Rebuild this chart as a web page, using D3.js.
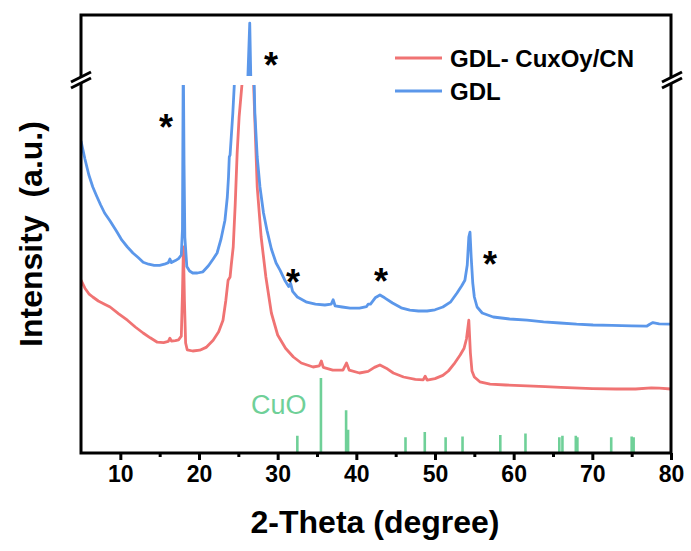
<!DOCTYPE html>
<html>
<head>
<meta charset="utf-8">
<script src="https://cdn.jsdelivr.net/npm/d3@7/dist/d3.min.js"></script>
<style>
body { margin:0; background:#fff; }
text { font-family: Arial, "Liberation Sans", sans-serif; }
</style>
</head>
<body>
<svg id="chart" width="691" height="551"></svg>
<script>
// GDL (blue) trace, 2-theta vs counts
var gdlTheta = [5.0,5.5,6.0,6.5,7.0,7.5,8.0,8.7,9.5,10.2,10.9,11.6,12.3,12.9,13.6,14.3,15.0,15.6,16.1,16.3,16.5,17.0,17.4,17.75,17.9,18.0,18.1,18.2,18.45,18.8,19.2,19.8,20.5,21.2,21.8,22.3,22.8,23.3,23.6,23.75,23.85,23.95,24.1,24.3,24.5,25.0,25.6,26.2,26.45,26.6,26.9,27.1,27.4,27.75,28.2,28.64,29.2,29.8,30.3,30.9,31.4,31.65,31.9,32.5,33.7,34.8,36.0,36.8,37.05,37.3,38.2,39.2,40.4,41.3,41.5,41.8,42.4,43.0,43.6,44.6,45.7,46.8,47.9,49.0,50.0,51.0,52.0,52.8,53.4,53.8,54.1,54.3,54.45,54.6,54.8,55.0,55.35,56.0,57.4,59.5,61.7,63.8,65.9,68.0,70.1,72.5,75.0,76.9,77.3,77.7,78.5,80.0];
var gdlCounts = [780,735,695,665,642,620,600,580,555,532,515,500,488,477,472,469,469,472,476,485,476,481,486,495,560,1000,720,540,466,455,450,450,453,468,485,500,535,582,640,690,740,745,790,850,925,1050,1120,1140,1280,1130,1020,850,740,665,600,557,510,475,457,432,416,424,404,390,377,372,370,372,383,368,365,362,362,366,372,372,388,395,388,375,363,357,355,355,358,365,378,400,418,432,470,540,552,490,425,390,365,350,340,335,332,328,325,322,320,319,318,317,322,326,323,322];

// GDL-CuxOy/CN (red) trace
var cnTheta = [5.0,5.5,6.0,6.5,7.2,8.0,8.7,9.8,10.9,11.9,12.9,13.8,14.7,15.5,16.1,16.3,16.5,17.0,17.4,17.75,17.9,18.02,18.15,18.3,18.5,19.2,20.1,20.9,21.8,22.5,23.05,23.4,23.7,23.95,24.1,24.35,24.6,24.85,25.1,25.5,25.9,26.3,26.45,26.65,26.9,27.1,27.4,27.9,28.5,29.2,30.0,31.0,32.0,33.0,34.5,35.3,35.55,35.8,37.0,38.3,38.75,39.1,40.4,41.5,42.3,43.0,43.8,44.7,46.0,47.5,48.5,48.75,49.0,50.0,51.0,51.7,52.4,53.2,53.7,54.0,54.3,54.5,54.7,55.0,55.7,57.0,59.0,61.7,64.0,66.0,70.0,73.0,75.5,77.5,78.5,80.0];
var cnCounts = [432,412,398,390,380,372,365,348,332,315,300,288,277,276,279,287,280,281,283,292,400,515,380,275,258,255,257,264,282,303,332,380,432,440,470,515,620,750,840,930,1040,1090,1100,1060,950,832,665,540,440,350,295,262,240,225,215,218,230,214,207,207,225,207,200,204,214,220,212,200,190,184,183,192,182,186,194,205,222,245,262,285,332,250,205,190,178,172,170,168,166,164,161,160,160,163,162,160];

// CuO reference lines (relative intensity)
var cuoTheta = [32.5,35.5,38.7,38.95,46.25,48.7,51.35,53.5,58.3,61.5,65.8,66.2,67.9,68.1,72.4,75.0,75.25];
var cuoRel = [23,100,57,31,21,28,21,22,24,26,21,23,23,21,21,22,21];

var xTicks = [10,20,30,40,50,60,70,80];
var xMinor = [15,25,35,45,55,65,75];

// reflection marks: [2theta, counts, panel]
var starMarks = [[15.8,832,"low"],[29.15,1194,"high"],[31.95,445,"low"],[43.13,447,"low"],[57.0,490,"low"]];

var seriesNames = ["GDL- CuxOy/CN","GDL"];
var seriesColors = ["#f07373","#5b97ea"];
var cuoColor = "#6fd098";

var W = 691, H = 551;
var L = 81, R = 671, T = 15, B = 453;
var svg = d3.select("#chart");

var x = d3.scaleLinear().domain([5,80]).range([L,R]);
var yLow = d3.scaleLinear().domain([0,920]).range([B,85]);
var yHigh = d3.scaleLinear().domain([1150,1300]).range([76,15]);
var yStick = d3.scaleLinear().domain([0,100]).range([B,378]);

var defs = svg.append("defs");
defs.append("clipPath").attr("id","clipLow").append("rect")
	.attr("x",L).attr("y",85).attr("width",R-L).attr("height",B-85);
defs.append("clipPath").attr("id","clipHigh").append("rect")
	.attr("x",L).attr("y",T).attr("width",R-L).attr("height",76-T);

function pairs(t, c){ return t.map(function(d,i){ return [d, c[i]]; }); }
var traces = [pairs(cnTheta, cnCounts), pairs(gdlTheta, gdlCounts)];

var lineLow = d3.line().x(function(d){ return x(d[0]); }).y(function(d){ return yLow(d[1]); });
var lineHigh = d3.line().x(function(d){ return x(d[0]); }).y(function(d){ return yHigh(d[1]); });

var gLow = svg.append("g").attr("clip-path","url(#clipLow)");
gLow.selectAll("path").data(traces).enter().append("path")
	.attr("d", lineLow).attr("fill","none")
	.attr("stroke", function(d,i){ return seriesColors[i]; })
	.attr("stroke-width",2.8).attr("stroke-linejoin","round");

var gHigh = svg.append("g").attr("clip-path","url(#clipHigh)");
gHigh.selectAll("path").data(traces).enter().append("path")
	.attr("d", lineHigh).attr("fill","none")
	.attr("stroke", function(d,i){ return seriesColors[i]; })
	.attr("stroke-width",2.8).attr("stroke-linejoin","round");

// CuO sticks
svg.append("g").selectAll("line").data(cuoTheta).enter().append("line")
	.attr("x1", function(d){ return x(d); }).attr("x2", function(d){ return x(d); })
	.attr("y1", yStick(0)).attr("y2", function(d,i){ return yStick(cuoRel[i]); })
	.attr("stroke", cuoColor).attr("stroke-width",2.6);
svg.append("text").attr("x", x(26.6)).attr("y", yStick(52))
	.attr("fill", cuoColor).attr("font-size",27).text("CuO");

// asterisks
svg.append("g").selectAll("text").data(starMarks).enter().append("text")
	.attr("x", function(d){ return x(d[0]); })
	.attr("y", function(d){ return (d[2]=="high" ? yHigh(d[1]) : yLow(d[1])) + 20; })
	.attr("text-anchor","middle").attr("font-size",36).attr("font-weight","bold")
	.text("*");

// frame
svg.append("rect").attr("x",L).attr("y",T).attr("width",R-L).attr("height",B-T)
	.attr("fill","none").attr("stroke","#000").attr("stroke-width",3);

// axis break marks
[L, R+1].forEach(function(bx){
	var by = 80;
	svg.append("path")
		.attr("d","M"+(bx-10)+","+(by+2)+"L"+(bx+10)+","+(by-8)+"L"+(bx+10)+","+(by-2)+"L"+(bx-10)+","+(by+8)+"Z")
		.attr("fill","#fff");
	[-3,3].forEach(function(o){
		svg.append("line").attr("x1",bx-10).attr("y1",by+5+o).attr("x2",bx+10).attr("y2",by-5+o)
			.attr("stroke","#000").attr("stroke-width",3);
	});
});

// bottom axis
var axisG = svg.append("g").attr("transform","translate(0,"+B+")")
	.call(d3.axisBottom(x).tickValues(xTicks).tickSize(7).tickSizeOuter(0).tickPadding(6));
axisG.select(".domain").remove();
axisG.selectAll(".tick line").attr("stroke","#000").attr("stroke-width",3);
axisG.selectAll(".tick text").attr("font-size",23).attr("font-weight","bold")
	.attr("fill","#000").attr("font-family","Arial, 'Liberation Sans', sans-serif");

var minorG = svg.append("g").attr("transform","translate(0,"+B+")")
	.call(d3.axisBottom(x).tickValues(xMinor).tickSize(4).tickSizeOuter(0).tickFormat(""));
minorG.select(".domain").remove();
minorG.selectAll(".tick line").attr("stroke","#000").attr("stroke-width",3);

// titles
svg.append("text").attr("x",(L+R)/2 - 1).attr("y",533).attr("text-anchor","middle")
	.attr("font-size",32).attr("font-weight","bold").text("2-Theta (degree)");
svg.append("text").attr("transform","translate(42,234) rotate(-90)").attr("text-anchor","middle")
	.attr("font-size",32).attr("font-weight","bold")
	.style("white-space","pre").text("Intensity  (a.u.)");

// legend
var leg = svg.append("g").selectAll("g").data(seriesNames).enter().append("g")
	.attr("transform", function(d,i){ return "translate(395," + (58 + i*33) + ")"; });
leg.append("line").attr("x1",0).attr("x2",47).attr("y1",0).attr("y2",0)
	.attr("stroke", function(d,i){ return seriesColors[i]; }).attr("stroke-width",3);
leg.append("text").attr("x",55).attr("y",8.5).attr("font-size",24).attr("font-weight","bold")
	.style("white-space","pre").text(function(d){ return d; });
</script>
</body>
</html>
